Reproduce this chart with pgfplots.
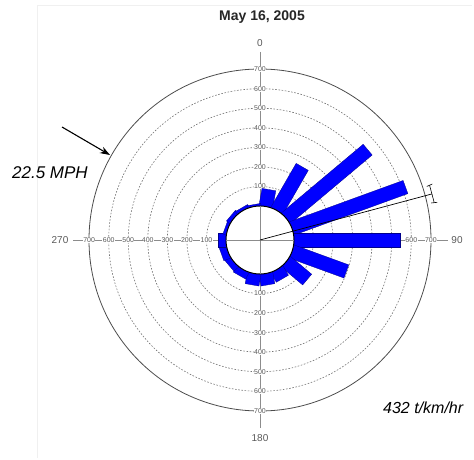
\documentclass[border=0pt]{standalone}
\usepackage{pgfplots}
\pgfplotsset{compat=1.18}
\usepackage{pgfplotstable}
\usepackage{fontspec}
\setmainfont{Liberation Sans}
\setsansfont{Liberation Sans}
\usetikzlibrary{arrows.meta}

% rectangle corners of a bar: s = across, t = along (0 inner, 1 outer)
\pgfplotstableread{
s t
-1 0
-1 1
1 1
1 0
-1 0
}\corners

% direction (deg, clockwise from north) and value of each bar
\newcommand{\pbar}[2]{%
  \addplot[fill=blue, draw=blue!55!black, line width=0.3pt]
    table[x expr={(30+\thisrow{t}*(4+#2*0.1955))*sin(#1)+\thisrow{s}*7*cos(#1)},
          y expr={(30+\thisrow{t}*(4+#2*0.1955))*cos(#1)-\thisrow{s}*7*sin(#1)}] {\corners};}

% polar points: a = angle from north, r = radius
\pgfplotstableread{
a r
75 0
75 178
}\meanline
\pgfplotstableread{
a r
72.1 178.2
77.9 178.2
}\errstem
\pgfplotstableread{
a r
72.2 175.2
72.0 181.2
}\errcapA
\pgfplotstableread{
a r
77.8 175.2
78.0 181.2
}\errcapB

\definecolor{axgray}{gray}{0.55}
\definecolor{ringgray}{gray}{0.45}
\definecolor{labgray}{gray}{0.35}

\begin{document}
\begin{tikzpicture}
\begin{axis}[
  width=474pt, height=459pt, scale only axis,
  xmin=-260, xmax=214, ymin=-219, ymax=240,
  hide axis, clip=false,
]
% faint frame
\draw[gray!12, line width=0.8pt] (axis cs:-223,-218) -- (axis cs:-223,235) -- (axis cs:212,235);

% dashed rings
\pgfplotsinvokeforeach{100,200,300,400,500,600}{
  \draw[ringgray, line width=0.6pt, dash pattern=on 1.6pt off 1.6pt] (axis cs:0,0) circle[radius={34+0.1955*#1}];
}
\draw[gray!60!black, line width=0.8pt] (axis cs:0,0) circle[radius=171];

% axis lines
\draw[axgray, line width=1pt] (axis cs:0,188) -- (axis cs:0,-188);
\draw[axgray, line width=1pt] (axis cs:-187,0) -- (axis cs:188,0);

% ring labels
\pgfplotsinvokeforeach{100,200,300,400,500,600,700}{
  \node[fill=white, inner sep=0.4pt, text=labgray, font=\fontsize{7}{8}\selectfont] at (axis cs:0,{34+0.1955*#1}) {#1};
  \node[fill=white, inner sep=0.4pt, text=labgray, font=\fontsize{7}{8}\selectfont] at (axis cs:0,{-34-0.1955*#1}) {#1};
  \node[fill=white, inner sep=0.4pt, text=labgray, font=\fontsize{7}{8}\selectfont] at (axis cs:{-34-0.1955*#1},0) {#1};
  \node[fill=white, inner sep=0.4pt, text=labgray, font=\fontsize{7}{8}\selectfont] at (axis cs:{34+0.1955*#1},0) {#1};
}

% bars
\pbar{10}{88}
\pbar{30}{258}
\pbar{50}{545}
\pbar{70}{618}
\pbar{90}{542}
\pbar{110}{296}
\pbar{130}{141}
\pbar{150}{55}
\pbar{170}{59}
\pbar{190}{59}
\pbar{210}{36}
\pbar{230}{31}
\pbar{250}{36}
\pbar{270}{40}
\pbar{290}{15}
\pbar{310}{20}
\pbar{330}{15}
\pbar{350}{10}

% inner disk
\draw[black, fill=white, line width=1pt] (axis cs:0,0) circle[radius=34];
\draw[axgray, line width=1pt] (axis cs:0,34) -- (axis cs:0,-34);
\draw[axgray, line width=1pt] (axis cs:-34,0) -- (axis cs:34,0);

% mean vector with error bar
\addplot[black, line width=0.7pt] table[x expr={\thisrow{r}*sin(\thisrow{a})}, y expr={\thisrow{r}*cos(\thisrow{a})}] {\meanline};
\addplot[black, line width=0.6pt] table[x expr={\thisrow{r}*sin(\thisrow{a})}, y expr={\thisrow{r}*cos(\thisrow{a})}] {\errstem};
\addplot[black, line width=0.6pt] table[x expr={\thisrow{r}*sin(\thisrow{a})}, y expr={\thisrow{r}*cos(\thisrow{a})}] {\errcapA};
\addplot[black, line width=0.6pt] table[x expr={\thisrow{r}*sin(\thisrow{a})}, y expr={\thisrow{r}*cos(\thisrow{a})}] {\errcapB};

% compass labels
\node[text=labgray, font=\fontsize{10}{12}\selectfont] at (axis cs:0,197) {0};
\node[text=labgray, font=\fontsize{10}{12}\selectfont] at (axis cs:197,0) {90};
\node[text=labgray, font=\fontsize{10}{12}\selectfont] at (axis cs:0,-198) {180};
\node[text=labgray, font=\fontsize{10}{12}\selectfont] at (axis cs:-200,0) {270};

% title and annotations
\node[font=\fontsize{14}{16}\selectfont\bfseries, text=black!85] at (axis cs:2,223) {May 16, 2005};
\node[anchor=west, inner sep=0pt, font=\fontsize{17}{20}\selectfont\itshape] at (axis cs:-248,67) {22.5 MPH};
\node[anchor=west, inner sep=0pt, font=\fontsize{16}{19}\selectfont\itshape] at (axis cs:123,-168) {432 t/km/hr};
\draw[black, line width=1.1pt, -{Stealth[length=10pt, width=7pt]}] (axis cs:-198,113) -- (axis cs:-150,85);
\end{axis}
\pgfresetboundingbox
\path[use as bounding box] (current axis.south west) rectangle (current axis.north east);
\end{tikzpicture}
\end{document}
